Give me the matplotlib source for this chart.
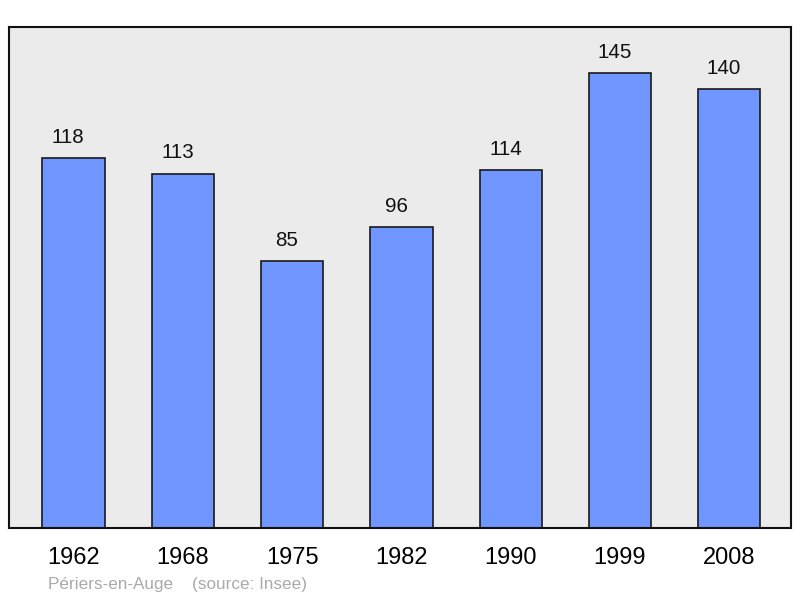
import matplotlib
matplotlib.use('Agg')
import matplotlib.pyplot as plt

years = ['1962', '1968', '1975', '1982', '1990', '1999', '2008']
population = [118, 113, 85, 96, 114, 145, 140]

plt.rcParams['font.family'] = ['Liberation Sans', 'DejaVu Sans']

fig = plt.figure(figsize=(8, 5.98), dpi=100)
ax = fig.add_axes([9/800, 1-528/598, 782/800, 501/598])
ax.set_facecolor('#ebebeb')

x = range(len(years))
ax.bar(x, population, width=0.57, color='#7096ff', edgecolor='#1a1a1a', linewidth=1.2, zorder=2)

# value labels sit a bit left of the bar centre in the original
for xi, v in zip(x, population):
    ax.annotate(str(v), (xi, v), xytext=(-3.8, 8), textcoords='offset points',
                ha='center', va='bottom', fontsize=14.8, color='#111111')

ax.set_xlim(-0.59, 6.565)
ax.set_ylim(0, 159.7)
ax.set_xticks(list(x))
ax.set_xticklabels(years, fontsize=17)
ax.tick_params(axis='x', length=0, pad=14)
ax.set_yticks([])
for s in ax.spines.values():
    s.set_linewidth(1.5)
    s.set_color('#111111')

fig.text(48/800, 1-584/598, 'Périers-en-Auge    (source: Insee)', fontsize=12.3,
         color='#aaaaaa', va='center', ha='left')

fig.savefig('out.png', dpi=100)
